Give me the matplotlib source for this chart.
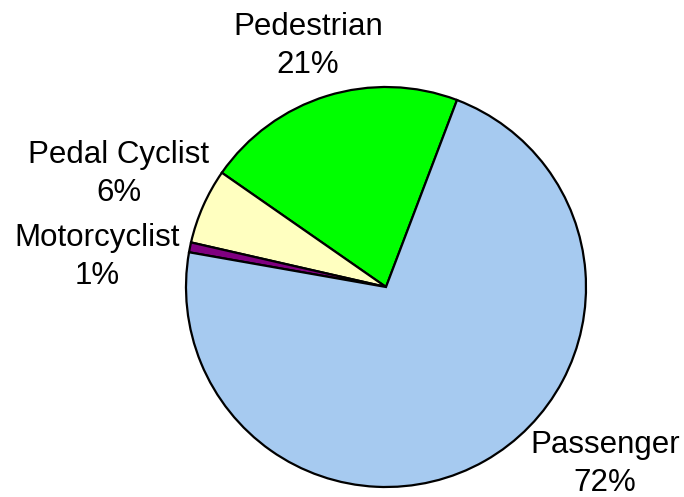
import matplotlib.pyplot as plt

categories = ['Pedestrian', 'Pedal Cyclist', 'Motorcyclist', 'Passenger']
shares = [21.1, 6.1, 0.8, 72.0]
colors = ['#00FF00', '#FFFFC0', '#800080', '#A6CAF0']

# label block centres, in pixel-like data coords (y up)
label_pos = [(308, 451), (119, 323), (97, 240), (605, 33)]

plt.rcParams['font.family'] = ['Liberation Sans', 'DejaVu Sans']

fig = plt.figure(figsize=(6.84, 4.97), dpi=100)
ax = fig.add_axes([0, 0, 1, 1])
ax.set_xlim(0, 684)
ax.set_ylim(0, 497)
ax.set_aspect('equal')
ax.axis('off')

ax.pie(shares, colors=colors, startangle=69.2, counterclock=True,
       center=(386, 210), radius=200,
       wedgeprops=dict(edgecolor='black', linewidth=1.6))
ax.set_xlim(0, 684)
ax.set_ylim(0, 497)

for name, pct, (x, y) in zip(categories, shares, label_pos):
    ax.text(x, y, f'{name}\n{pct:.0f}%', ha='center', va='center',
            fontsize=22.5, linespacing=1.38)

fig.savefig('out.png', dpi=100)
